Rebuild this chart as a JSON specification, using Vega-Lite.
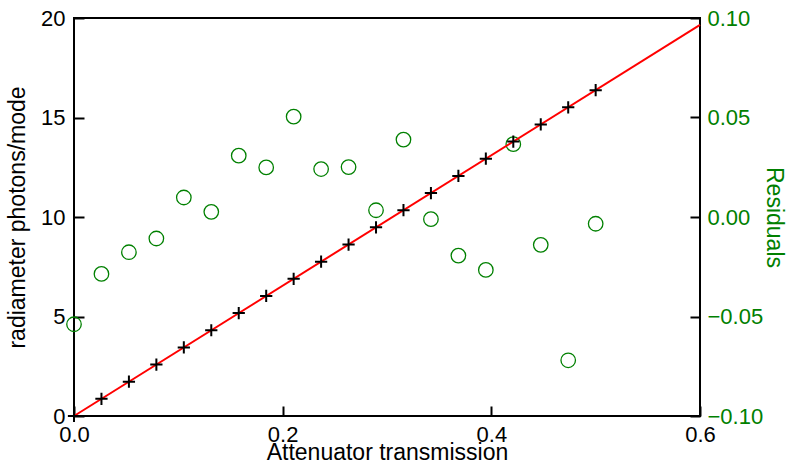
{
  "$schema": "https://vega.github.io/schema/vega-lite/v6.json",
  "width": 626,
  "height": 398,
  "autosize": {"type": "none"},
  "padding": {"left": 74, "top": 18, "right": 89, "bottom": 46},
  "background": "white",
  "config": {
    "view": {"stroke": "black", "strokeWidth": 2},
    "font": "Liberation Sans",
    "axis": {
      "grid": false,
      "domain": false,
      "tickSize": -10,
      "tickWidth": 2,
      "tickColor": "black",
      "labelFont": "Liberation Sans",
      "titleFont": "Liberation Sans",
      "labelFontSize": 22,
      "titleFontSize": 23,
      "titleFontWeight": "normal",
      "labelColor": "black",
      "titleColor": "black",
      "labelFlush": false,
      "labelOverlap": false
    }
  },
  "datasets": {
    "pts": [
      {"x": 0.0, "photons": 0.0, "residual": -0.0539},
      {"x": 0.026316, "photons": 0.862, "residual": -0.0286},
      {"x": 0.052632, "photons": 1.724, "residual": -0.0177},
      {"x": 0.078947, "photons": 2.585, "residual": -0.0108},
      {"x": 0.105263, "photons": 3.447, "residual": 0.0098},
      {"x": 0.131579, "photons": 4.309, "residual": 0.0026},
      {"x": 0.157895, "photons": 5.171, "residual": 0.0308},
      {"x": 0.184211, "photons": 6.033, "residual": 0.0249},
      {"x": 0.210526, "photons": 6.895, "residual": 0.0504},
      {"x": 0.236842, "photons": 7.757, "residual": 0.0241},
      {"x": 0.263158, "photons": 8.618, "residual": 0.0251},
      {"x": 0.289474, "photons": 9.480, "residual": 0.0034},
      {"x": 0.315789, "photons": 10.342, "residual": 0.0389},
      {"x": 0.342105, "photons": 11.204, "residual": -0.0011},
      {"x": 0.368421, "photons": 12.066, "residual": -0.0194},
      {"x": 0.394737, "photons": 12.928, "residual": -0.0266},
      {"x": 0.421053, "photons": 13.789, "residual": 0.0366},
      {"x": 0.447368, "photons": 14.651, "residual": -0.0140},
      {"x": 0.473684, "photons": 15.513, "residual": -0.0720},
      {"x": 0.5, "photons": 16.375, "residual": -0.0034}
    ],
    "fit": [
      {"x": 0.0, "photons": 0.0},
      {"x": 0.6, "photons": 19.65}
    ]
  },
  "layer": [
    {
      "data": {"name": "pts"},
      "mark": {"type": "point", "shape": "circle", "filled": false, "stroke": "#008000", "strokeWidth": 1.3, "size": 210, "opacity": 1},
      "encoding": {
        "x": {"field": "x", "type": "quantitative", "scale": {"domain": [0, 0.6], "nice": false},
              "axis": {"orient": "bottom", "values": [0, 0.2, 0.4, 0.6], "format": ".1f", "title": "Attenuator transmission", "labelPadding": 18, "titlePadding": -4}},
        "y": {"field": "residual", "type": "quantitative", "scale": {"domain": [-0.1, 0.1], "nice": false, "zero": false},
              "axis": {"orient": "right", "values": [-0.1, -0.05, 0, 0.05, 0.1], "format": ".2f", "title": "Residuals", "labelColor": "#008000", "titleColor": "#008000", "labelPadding": 17, "titlePadding": -1}}
      }
    },
    {
      "layer": [
        {
          "data": {"name": "fit"},
          "mark": {"type": "line", "color": "#ff0000", "strokeWidth": 2},
          "encoding": {
            "x": {"field": "x", "type": "quantitative"},
            "y": {"field": "photons", "type": "quantitative"}
          }
        },
        {
          "data": {"name": "pts"},
          "mark": {"type": "point", "shape": "M-1,0L1,0M0,-1L0,1", "filled": false, "stroke": "black", "strokeWidth": 2, "size": 150, "opacity": 1},
          "encoding": {
            "x": {"field": "x", "type": "quantitative"},
            "y": {"field": "photons", "type": "quantitative"}
          }
        }
      ],
      "encoding": {
        "y": {"scale": {"domain": [0, 20], "nice": false},
              "axis": {"orient": "left", "values": [0, 5, 10, 15, 20], "title": "radiameter photons/mode", "labelPadding": 19, "titlePadding": 11}}
      }
    }
  ],
  "resolve": {"scale": {"y": "independent"}}
}
